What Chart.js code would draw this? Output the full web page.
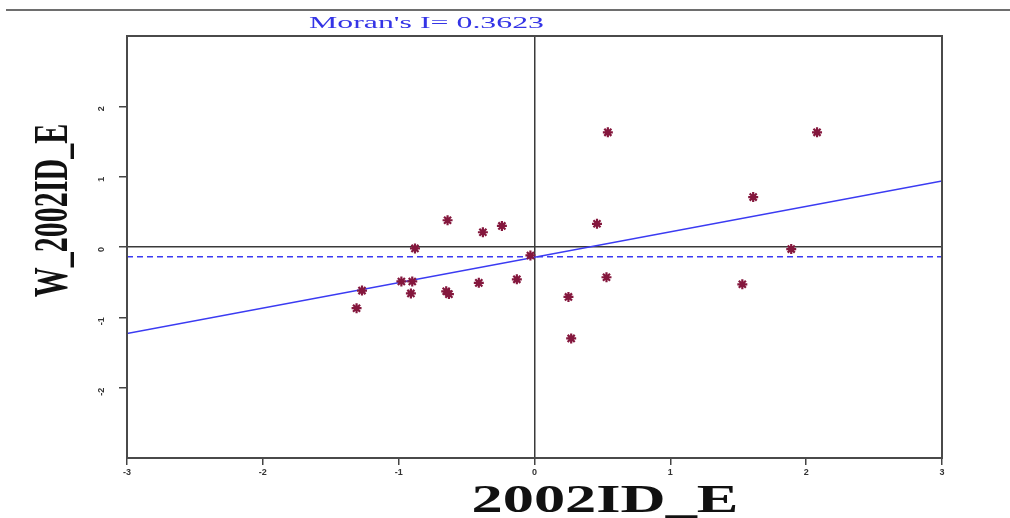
<!DOCTYPE html>
<html>
<head>
<meta charset="utf-8">
<script src="https://cdn.jsdelivr.net/npm/chart.js@4"></script>
<style>
  html, body { margin: 0; padding: 0; background: #ffffff; }
  #wrap { width: 1010px; height: 518px; position: relative; }
</style>
</head>
<body>
<div id="wrap"><canvas id="c"></canvas></div>
<script>
// ---- data ----
const chartTitle = "Moran's I= 0.3623";
const xAxisTitle = "2002ID_E";
const yAxisTitle = "W_2002ID_E";
const xTickValues = [-3, -2, -1, 0, 1, 2, 3];
const yTickValues = [-2, -1, 0, 1, 2];
const xValues = [0.54, 2.08, 1.61, 1.89, 1.53, 0.46, 0.53, 0.25, 0.27,
                 -0.13, -0.03, -0.24,
                 -0.64, -0.38, -0.88, -0.98, -0.90, -1.27, -1.31, -0.91, -0.65, -0.63, -0.41];
const yValues = [1.63, 1.63, 0.71, -0.03, -0.53, 0.33, -0.43, -0.71, -1.30,
                 -0.46, -0.12, 0.30,
                 0.38, 0.21, -0.02, -0.49, -0.49, -0.62, -0.87, -0.66, -0.63, -0.67, -0.51];
const regLineX = [-3, 3];
const regLineY = [-1.23, 0.94];
const meanLineX = [-3, 3];
const meanLineY = [-0.14, -0.14];

const points = xValues.map((x, i) => ({ x: x, y: yValues[i] }));
const regLine = regLineX.map((x, i) => ({ x: x, y: regLineY[i] }));
const meanLine = meanLineX.map((x, i) => ({ x: x, y: meanLineY[i] }));

const BLUE = '#3b3bf2';

function stretchedText(ctx, text, x, y, font, color, targetWidth, rotate, thickStretch) {
  ctx.save();
  ctx.font = font;
  ctx.fillStyle = color;
  ctx.textAlign = 'center';
  ctx.textBaseline = 'alphabetic';
  const w = ctx.measureText(text).width;
  ctx.translate(x, y);
  if (rotate) {
    ctx.rotate(-Math.PI / 2);
    ctx.scale(1, thickStretch);
  } else {
    ctx.scale(targetWidth / w, 1);
  }
  ctx.fillText(text, 0, 0);
  ctx.restore();
}

const decor = {
  id: 'decor',
  beforeDraw(chart) {
    const ctx = chart.ctx;
    ctx.save();
    ctx.fillStyle = '#ffffff';
    ctx.fillRect(0, 0, chart.width, chart.height);
    ctx.strokeStyle = '#6e6e6e';
    ctx.lineWidth = 2;
    ctx.beginPath();
    ctx.moveTo(6, 10);
    ctx.lineTo(chart.width, 10);
    ctx.stroke();
    ctx.restore();
  },
  afterDraw(chart) {
    const ctx = chart.ctx;
    const a = chart.chartArea;
    ctx.save();
    ctx.strokeStyle = '#4a4a4a';
    ctx.lineWidth = 2;
    ctx.strokeRect(a.left, a.top, a.right - a.left, a.bottom - a.top);
    ctx.restore();
    // title
    stretchedText(ctx, chartTitle, 426.5, 28, '16px "Liberation Serif", "Times New Roman", serif', '#3434e6', 235, false);
    // x axis title
    stretchedText(ctx, xAxisTitle, 605, 512, 'bold 41px "Liberation Serif", "Times New Roman", serif', '#111111', 267, false);
    // y axis title
    stretchedText(ctx, yAxisTitle, 67, 210.5, 'bold 30px "Liberation Serif", "Times New Roman", serif', '#111111', 0, true, 1.6);
  }
};

new Chart(document.getElementById('c'), {
  type: 'scatter',
  data: {
    datasets: [
      {
        type: 'line',
        label: 'mean',
        data: meanLine,
        borderColor: BLUE,
        borderWidth: 1.5,
        borderDash: [6, 4],
        pointRadius: 0,
        fill: false,
        order: 3
      },
      {
        type: 'line',
        label: 'fit',
        data: regLine,
        borderColor: BLUE,
        borderWidth: 1.5,
        pointRadius: 0,
        fill: false,
        order: 2
      },
      {
        label: 'points',
        data: points,
        pointStyle: 'star',
        pointRadius: 5,
        borderWidth: 2.2,
        borderColor: '#84173d',
        backgroundColor: '#84173d',
        order: 1
      }
    ]
  },
  options: {
    responsive: true,
    maintainAspectRatio: false,
    animation: false,
    layout: { padding: { top: 36, right: 68, bottom: 0, left: 0 } },
    plugins: {
      legend: { display: false },
      title: { display: false },
      tooltip: { enabled: false }
    },
    scales: {
      x: {
        type: 'linear',
        min: -3, max: 3,
        afterFit(scale) { scale.height = 60; },
        afterBuildTicks(scale) { scale.ticks = xTickValues.map(v => ({ value: v })); },
        border: { display: false },
        grid: {
          drawOnChartArea: true,
          color: c => (c.tick && c.tick.value === 0) ? '#3a3a3a' : 'rgba(0,0,0,0)',
          lineWidth: 1.5,
          tickColor: '#444444',
          tickLength: 7
        },
        ticks: {
          color: '#333333',
          padding: 2,
          maxRotation: 0,
          font: { family: 'Arial, "Liberation Sans", sans-serif', size: 9, weight: 'bold' },
          callback: v => String(v)
        }
      },
      y: {
        type: 'linear',
        min: -3, max: 3,
        afterFit(scale) { scale.width = 127; },
        afterBuildTicks(scale) { scale.ticks = yTickValues.map(v => ({ value: v })); },
        border: { display: false },
        grid: {
          drawOnChartArea: true,
          color: c => (c.tick && c.tick.value === 0) ? '#3a3a3a' : 'rgba(0,0,0,0)',
          lineWidth: 1.5,
          tickColor: '#444444',
          tickLength: 8
        },
        ticks: {
          color: '#333333',
          padding: 17,
          minRotation: 90,
          maxRotation: 90,
          font: { family: 'Arial, "Liberation Sans", sans-serif', size: 9, weight: 'bold' },
          callback: v => String(v)
        }
      }
    }
  },
  plugins: [decor]
});
</script>
</body>
</html>
